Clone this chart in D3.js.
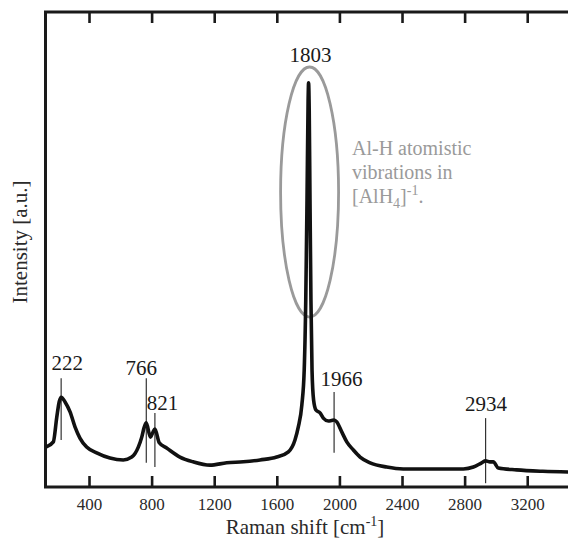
<!DOCTYPE html>
<html>
<head>
<meta charset="utf-8">
<script src="https://cdn.jsdelivr.net/npm/d3@7"></script>
<style>
  html, body { margin: 0; padding: 0; background: #fff; }
  svg { display: block; }
  svg text { font-family: "Liberation Serif", "Times New Roman", serif; }
</style>
</head>
<body>
<svg id="chart" width="568" height="538"></svg>
<script>
// ---- data ----
const wavenumber = [125, 172, 194, 210, 222, 247, 279, 311, 342, 385, 449, 534, 619, 673, 715, 737, 752, 766, 792, 808, 821, 849, 896, 981, 1065, 1173, 1280, 1386, 1493, 1599, 1674, 1716, 1737, 1760, 1775, 1785, 1793, 1800, 1803, 1807, 1812, 1818, 1825, 1835, 1850, 1876, 1897, 1929, 1950, 1966, 1983, 2015, 2047, 2089, 2132, 2196, 2302, 2408, 2600, 2792, 2856, 2909, 2934, 2962, 2983, 3015, 3132, 3300, 3550];
const intensity  = [8.4, 9.5, 14.7, 18.0, 18.9, 17.9, 15.8, 12.6, 10.3, 8.4, 7.2, 6.1, 5.7, 6.3, 8.4, 10.5, 12.5, 13.5, 10.5, 11.5, 12.2, 9.3, 8.2, 6.3, 5.3, 4.6, 5.1, 5.3, 5.7, 6.3, 7.4, 9.9, 12.6, 17.3, 24.6, 39.4, 60.4, 81.5, 85.1, 79.4, 60.4, 39.4, 24.6, 18.3, 16.2, 15.6, 14.5, 13.9, 14.0, 14.1, 13.7, 11.6, 9.5, 7.8, 6.3, 5.1, 4.2, 3.8, 3.8, 3.8, 4.2, 5.1, 5.5, 5.3, 5.3, 4.0, 3.6, 3.3, 3.1];
const xTicks = [400, 800, 1200, 1600, 2000, 2400, 2800, 3200];
const peakValues = [222, 766, 821, 1803, 1966, 2934];
const peakLabels = ["222", "766", "821", "1803", "1966", "2934"];
const xDomain = [122, 3550];
const yDomain = [0, 100];

// ---- annotation layout (intensity units / pixel offsets) ----
const peakLabelLevel = [24.6, 23.6, 16.2, 89.5, 21.3, 16.0];
const peakLabelDx    = [6, -5, 7.5, 2, 7.5, 0.5];
const peakLineTop    = [22.9, 22.9, 15.6, null, 20.0, 14.5];
const peakLineBottom = [9.9, 5.1, 4.2, null, 7.2, 0.8];

// ---- layout ----
const svg = d3.select("#chart");
const mLeft = 45.5, mTop = 12, mBottom = 487, mRight = 582;
const serif = "'Liberation Serif', 'Times New Roman', serif";

const x = d3.scaleLinear().domain(xDomain).range([mLeft, mRight]);
const y = d3.scaleLinear().domain(yDomain).range([mBottom, mTop]);

// bottom axis with inward ticks
const bottomAxis = svg.append("g")
  .attr("transform", `translate(0,${mBottom})`)
  .call(d3.axisBottom(x).tickValues(xTicks).tickSize(-11).tickPadding(0).tickFormat(d3.format("d")));
bottomAxis.select(".domain").remove();
bottomAxis.selectAll(".tick line").attr("stroke", "#1a1a1a").attr("stroke-width", 2.6);
bottomAxis.selectAll(".tick text")
  .attr("y", 23).attr("dy", 0)
  .attr("fill", "#2a2a2a")
  .style("font-size", "17px")
  .style("font-family", serif);

// top axis with inward ticks
const topAxis = svg.append("g")
  .attr("transform", `translate(0,${mTop})`)
  .call(d3.axisTop(x).tickValues(xTicks).tickSize(-11).tickFormat(""));
topAxis.select(".domain").remove();
topAxis.selectAll(".tick line").attr("stroke", "#1a1a1a").attr("stroke-width", 2.6);

// frame
svg.append("rect")
  .attr("x", mLeft).attr("y", mTop)
  .attr("width", mRight - mLeft).attr("height", mBottom - mTop)
  .attr("fill", "none").attr("stroke", "#1a1a1a").attr("stroke-width", 3);

// annotation lines (behind curve)
peakValues.forEach((p, i) => {
  if (peakLineTop[i] == null) return;
  svg.append("line")
    .attr("x1", x(p)).attr("x2", x(p))
    .attr("y1", y(peakLineTop[i])).attr("y2", y(peakLineBottom[i]))
    .attr("stroke", "#333").attr("stroke-width", 1.2);
});

// ellipse around main peak
svg.append("ellipse")
  .attr("cx", x(1803) + 1).attr("cy", y(62.1))
  .attr("rx", 29).attr("ry", 125)
  .attr("fill", "none").attr("stroke", "#9a9a9a").attr("stroke-width", 2.8);

// spectrum
const line = d3.line()
  .x((d, i) => x(wavenumber[i]))
  .y((d, i) => y(intensity[i]))
  .curve(d3.curveMonotoneX);
svg.append("path")
  .datum(wavenumber)
  .attr("d", line)
  .attr("fill", "none")
  .attr("stroke", "#111")
  .attr("stroke-width", 3.6)
  .attr("stroke-linejoin", "round");

// peak labels
peakValues.forEach((p, i) => {
  svg.append("text")
    .attr("x", x(p) + peakLabelDx[i]).attr("y", y(peakLabelLevel[i]))
    .attr("text-anchor", "middle")
    .attr("fill", "#1a1a1a")
    .style("font-size", "21px")
    .style("font-family", serif)
    .text(peakLabels[i]);
});

// gray annotation text
const ann = svg.append("text")
  .attr("fill", "#9a9a9a")
  .style("font-size", "20px")
  .style("font-family", serif);
ann.append("tspan").attr("x", 352).attr("y", 155).text("Al-H atomistic");
ann.append("tspan").attr("x", 352).attr("y", 179).text("vibrations in");
const l3 = svg.append("text")
  .attr("x", 352).attr("y", 203)
  .attr("fill", "#9a9a9a")
  .style("font-size", "20px")
  .style("font-family", serif);
l3.append("tspan").text("[AlH");
l3.append("tspan").attr("dy", 5).style("font-size", "14px").text("4");
l3.append("tspan").attr("dy", -5).text("]");
l3.append("tspan").attr("dy", -8).style("font-size", "14px").text("-1");
l3.append("tspan").attr("dy", 8).text(".");

// axis titles
const xt = svg.append("text")
  .attr("x", 305).attr("y", 534)
  .attr("text-anchor", "middle")
  .attr("fill", "#2a2a2a")
  .style("font-size", "21px")
  .style("font-family", serif);
xt.append("tspan").text("Raman shift [cm");
xt.append("tspan").attr("dy", -8).style("font-size", "14px").text("-1");
xt.append("tspan").attr("dy", 8).text("]");

svg.append("text")
  .attr("transform", "translate(27,242) rotate(-90)")
  .attr("text-anchor", "middle")
  .attr("fill", "#2a2a2a")
  .style("font-size", "21px")
  .style("font-family", serif)
  .text("Intensity [a.u.]");
</script>
</body>
</html>
